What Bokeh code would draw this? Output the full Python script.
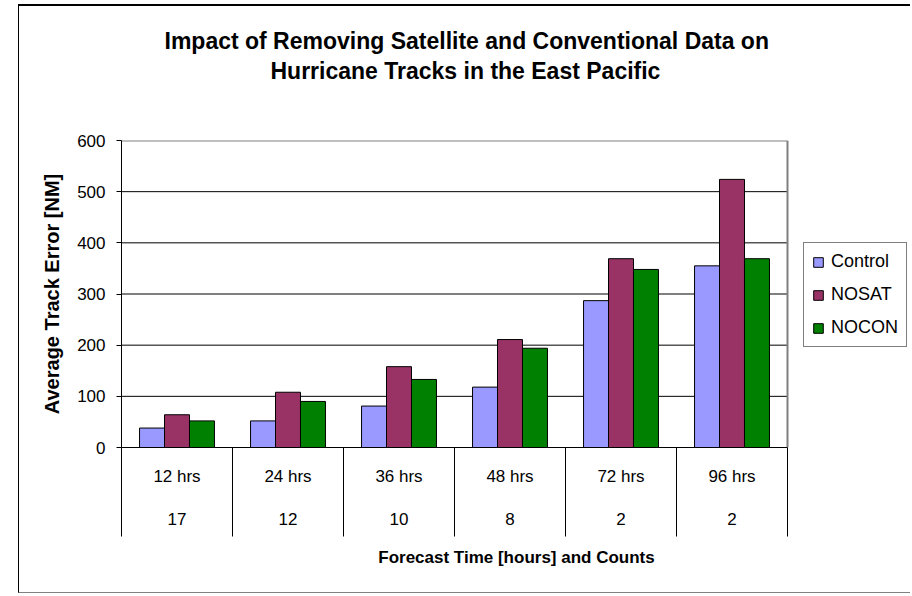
import numpy as np
from bokeh.plotting import figure
from bokeh.models import (Range1d, FixedTicker, LinearAxis, Legend, LegendItem, Title)
from bokeh.embed import file_html
from bokeh.resources import INLINE

categories = ["12 hrs", "24 hrs", "36 hrs", "48 hrs", "72 hrs", "96 hrs"]
counts = ["17", "12", "10", "8", "2", "2"]
control = [38, 52, 81, 118, 287, 355]
nosat = [64, 108, 158, 211, 369, 524]
nocon = [52, 90, 133, 194, 348, 369]
series_names = ["Control", "NOSAT", "NOCON"]
series_colors = ["#9999FF", "#993366", "#008000"]
y_ticks = [0, 100, 200, 300, 400, 500, 600]

FONT = "Liberation Sans"
n = len(categories)
centers = np.arange(n) + 0.5
bar_w = 0.225

# layout (canvas pixels)
W, H = 892, 589
LEFT, TOP, BOTTOM = 102, 134, 148
PLOT_W = 666                       # width of the bar area
FRAME_W = W - LEFT                 # frame also hosts the legend on its right
x_end = n * FRAME_W / PLOT_W

p = figure(width=W, height=H, output_backend="svg", toolbar_location=None,
           x_range=Range1d(0, x_end), y_range=Range1d(0, 600),
           min_border_left=LEFT, min_border_right=0, min_border_top=TOP,
           min_border_bottom=BOTTOM, x_axis_location=None, y_axis_location=None)
p.background_fill_color = "white"
p.border_fill_color = "white"
p.outline_line_color = None
p.styles = {"margin-left": "18px", "margin-top": "4px",
            "border-left": "1px solid #000000", "border-top": "2px solid #000000",
            "border-bottom": "1px solid #808080"}

# y axis
yax = LinearAxis(ticker=FixedTicker(ticks=y_ticks, minor_ticks=[]))
yax.axis_label = "Average Track Error [NM]"
yax.axis_label_text_font = FONT
yax.axis_label_text_font_style = "bold"
yax.axis_label_text_font_size = "20px"
yax.axis_label_text_color = "black"
yax.axis_label_standoff = 11
yax.major_label_text_font = FONT
yax.major_label_text_font_size = "17px"
yax.major_label_text_color = "black"
yax.major_label_standoff = 11
yax.major_tick_out = 5
yax.major_tick_in = 0
yax.axis_line_color = "black"
yax.major_tick_line_color = "black"
p.add_layout(yax, "left")

# x axis row 1: hour labels, separators as long minor ticks
xax1 = LinearAxis(ticker=FixedTicker(ticks=list(centers), minor_ticks=list(range(n + 1))),
                  bounds=(0, n))
xax1.major_label_overrides = {float(c): lab for c, lab in zip(centers, categories)}
xax1.major_label_text_font = FONT
xax1.major_label_text_font_size = "17px"
xax1.major_label_text_color = "black"
xax1.major_tick_out = 0
xax1.major_tick_in = 0
xax1.major_tick_line_color = None
xax1.minor_tick_out = 89
xax1.minor_tick_in = 0
xax1.minor_tick_line_color = "black"
xax1.major_label_standoff = 19 - 89
xax1.axis_line_color = "black"
p.add_layout(xax1, "below")

# x axis row 2: counts + axis title
xax2 = LinearAxis(ticker=FixedTicker(ticks=list(centers), minor_ticks=[]), bounds=(0, n))
xax2.major_label_overrides = {float(c): lab for c, lab in zip(centers, counts)}
xax2.major_label_text_font = FONT
xax2.major_label_text_font_size = "17px"
xax2.major_label_text_color = "black"
xax2.major_label_standoff = 24
xax2.major_tick_out = 0
xax2.major_tick_in = 0
xax2.major_tick_line_color = None
xax2.axis_line_color = None
xax2.axis_label = "Forecast Time [hours] and Counts"
xax2.axis_label_text_font = FONT
xax2.axis_label_text_font_style = "bold"
xax2.axis_label_text_font_size = "17px"
xax2.axis_label_text_color = "black"
xax2.axis_label_standoff = 20
p.add_layout(xax2, "below")

# grid lines only across the bar area, plus the grey plot-area border
p.xgrid.grid_line_color = None
p.ygrid.grid_line_color = None
grid_y = y_ticks[1:-1]
p.segment(x0=[0] * len(grid_y), x1=[n] * len(grid_y), y0=grid_y, y1=grid_y,
          line_color="black", line_width=1)
p.segment(x0=[0, n], x1=[n, n], y0=[y_ticks[-1], 0], y1=[y_ticks[-1], y_ticks[-1]],
          line_color="#808080", line_width=2)

# bars
items = []
offsets = [-bar_w, 0.0, bar_w]
for name, vals, col, off in zip(series_names, [control, nosat, nocon], series_colors, offsets):
    r = p.vbar(x=centers + off, top=vals, width=bar_w, bottom=0,
               fill_color=col, line_color="black", line_width=1)
    items.append(LegendItem(label=name, renderers=[r]))

legend = Legend(items=items, location=(682, 100))
legend.label_text_font = FONT
legend.label_text_font_size = "18px"
legend.label_text_color = "black"
legend.glyph_width = 12
legend.glyph_height = 12
legend.label_standoff = 7
legend.spacing = 12
legend.padding = 8
legend.margin = 0
legend.border_line_color = "black"
legend.background_fill_color = "white"
legend.background_fill_alpha = 1
p.add_layout(legend, "center")

# spacer between plot area and titles (an empty axis with one invisible tick)
spacer = LinearAxis(ticker=FixedTicker(ticks=[1.0], minor_ticks=[]))
spacer.major_label_overrides = {1.0: ""}
spacer.major_tick_out = 56
spacer.major_tick_in = 0
spacer.major_label_standoff = 0
spacer.axis_line_color = None
spacer.major_tick_line_color = None
spacer.major_label_text_font_size = "1px"
p.add_layout(spacer, "above")

# titles (closest to frame first)
t2 = Title(text="Hurricane Tracks in the East Pacific", align="left", offset=149,
           text_font=FONT, text_font_style="bold", text_font_size="23px",
           text_color="black", standoff=2)
t1 = Title(text="Impact of Removing Satellite and Conventional Data on", align="left",
           offset=43, text_font=FONT, text_font_style="bold", text_font_size="23px",
           text_color="black", standoff=2)
p.add_layout(t2, "above")
p.add_layout(t1, "above")

open("out.html", "w").write(file_html(p, INLINE))
